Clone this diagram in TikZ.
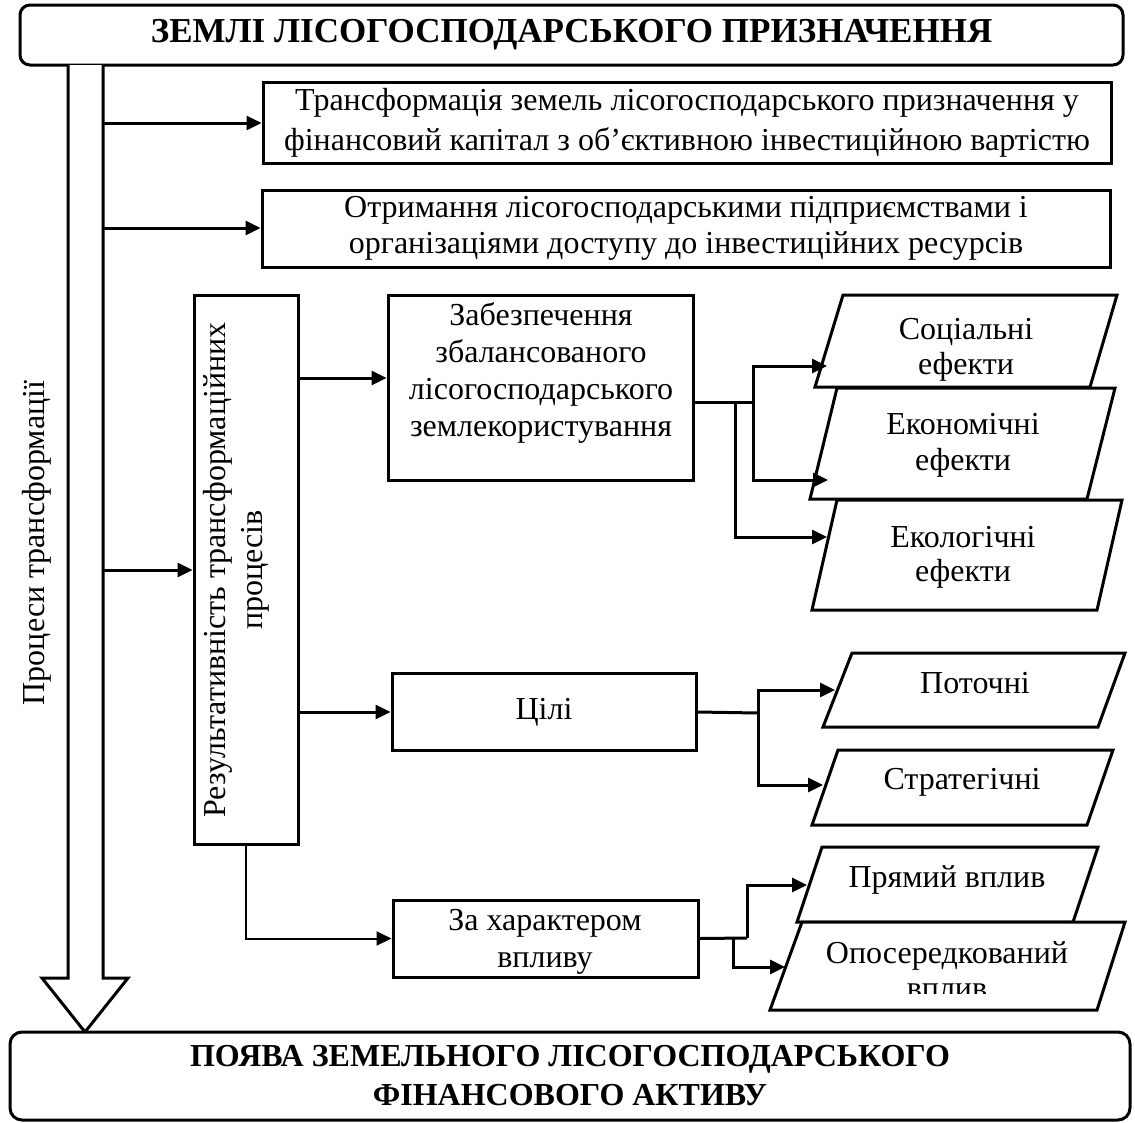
\documentclass[tikz,border=0pt]{standalone}
\usepackage{fontspec}
\setmainfont{Liberation Serif}
\usetikzlibrary{arrows.meta,calc}
\newcommand\mybody{\fontsize{32}{37}\selectfont}
\newcommand\mytitle{\bfseries\fontsize{35}{38}\selectfont}
\newcommand\mybottom{\bfseries\fontsize{32}{39}\selectfont}
\begin{document}
\begin{tikzpicture}[x=1pt,y=-1pt,
  lw/.style={line width=3pt},
  box/.style={draw, line width=3pt, align=center, inner sep=1pt, font=\mybody},
  arr/.style={line width=3pt, -{Triangle[length=15pt,width=14pt]}},
  tarr/.style={line width=2pt, -{Triangle[length=15pt,width=14pt]}},
  para/.style={draw, line width=3pt, fill=white, line join=miter},
  txt/.style={align=center, font=\mybody, inner sep=0pt}
]
\useasboundingbox (0,0) rectangle (1135,1122);

% top box
\node[draw, line width=3pt, rounded corners=10pt, minimum width=1103pt, minimum height=60pt,
      font=\mytitle, inner sep=0pt] (top) at (571.5,35) {ЗЕМЛІ ЛІСОГОСПОДАРСЬКОГО ПРИЗНАЧЕННЯ};

% block arrow
\draw[lw, line join=miter, fill=white] (68,65) -- (68,978) -- (42,978) -- (85,1032) -- (128,978) -- (103,978) -- (103,65);
\node[rotate=90, font=\mybody, inner sep=0pt] (proc) at (37,543) {Процеси трансформації};

% bottom box
\node[draw, line width=3pt, rounded corners=12pt, minimum width=1120pt, minimum height=88pt,
      font=\mybottom, align=center, inner sep=0pt, fill=white] (bot) at (570,1076)
      {ПОЯВА ЗЕМЕЛЬНОГО ЛІСОГОСПОДАРСЬКОГО\\ФІНАНСОВОГО АКТИВУ};

% right boxes
\node[box, minimum width=848pt, minimum height=81pt, font=\fontsize{32}{40}\selectfont] (b1) at (687,122.5)
  {Трансформація земель лісогосподарського призначення у\\фінансовий капітал з об’єктивною інвестиційною вартістю};
\node[box, minimum width=848pt, minimum height=77pt, font=\fontsize{32}{36}\selectfont] (b2) at (686,228.5)
  {Отримання лісогосподарськими підприємствами і\\організаціями доступу до інвестиційних ресурсів};

\node[draw, line width=3pt, minimum width=104pt, minimum height=549pt] (rez) at (246,569.5) {};
\node[txt, rotate=90] (rezt) at (236,570) {Результативність трансформаційних\\процесів};

\node[draw, line width=3pt, minimum width=305pt, minimum height=185pt] (zab) at (540.5,387.5) {};
\node[txt] (zabt) at (541,373) {Забезпечення\\збалансованого\\лісогосподарського\\землекористування};

\node[box, minimum width=304pt, minimum height=77pt] (cil) at (544,712) {Цілі};
\node[draw, line width=3pt, minimum width=305pt, minimum height=77pt] (zax) at (545.5,938.5) {};
\node[txt] (zaxt) at (545,942) {За характером\\впливу};

% parallelograms
\draw[para] (843,295) -- (1117,295) -- (1090,387) -- (815,387) -- cycle;
\node[txt, font=\fontsize{32}{35}\selectfont] (soc) at (966,350) {Соціальні\\ефекти};
\draw[para] (837,388) -- (1115,388) -- (1087,499) -- (810,499) -- cycle;
\node[txt, font=\fontsize{32}{36}\selectfont] (eko) at (963,445) {Економічні\\ефекти};
\draw[para] (837,500) -- (1122,500) -- (1097,610) -- (812,610) -- cycle;
\node[txt, font=\fontsize{32}{34}\selectfont] (ekol) at (963,557) {Екологічні\\ефекти};

\draw[para] (852,653) -- (1125,653) -- (1098,727) -- (823,727) -- cycle;
\node[txt] (pot) at (975,683) {Поточні};
\draw[para] (838,750) -- (1113,750) -- (1087,825) -- (812,825) -- cycle;
\node[txt] (str) at (962,782) {Стратегічні};

\draw[para] (822,847) -- (1098,847) -- (1073,922) -- (797,922) -- cycle;
\node[txt] (pr) at (947,880) {Прямий вплив};
\draw[para] (802,922) -- (1125,922) -- (1097,1010) -- (770,1010) -- cycle;
\begin{scope}
  \clip (700,900) rectangle (1135,993);
  \node[txt, font=\fontsize{32}{35}\selectfont] (op) at (947,970) {Опосередкований\\вплив};
\end{scope}

% coordinates for connectors
\coordinate (s1) at (103,123);
\coordinate (s2) at (103,228);
\coordinate (s3) at (103,570);
\coordinate (r1) at (298,378);
\coordinate (zo) at (693,402);
\coordinate (ja) at (753,402);
\coordinate (jb) at (735,402);
\coordinate (soc-in) at (827,366);
\coordinate (eko-in) at (828,480);
\coordinate (ekol-in) at (827,537);
\coordinate (jc) at (758,713);
\coordinate (pot-in) at (835,690);
\coordinate (str-in) at (823,785);
\coordinate (jd) at (747,938);
\coordinate (je) at (733,938);
\coordinate (pr-in) at (807,885);
\coordinate (op-in) at (785,967);

% connectors
\draw[arr] (s1) -- (s1 -| b1.west);
\draw[arr] (s2) -- (s2 -| b2.west);
\draw[arr] (s3) -- (s3 -| rez.west);
\draw[arr] (r1) -- (r1 -| zab.west);
\draw[arr] (rez.east |- cil.west) -- (cil.west);
\draw[tarr] (rez.south) |- (zax.west);

\draw[lw] (zo) -- (ja);
\draw[arr] (ja) |- (soc-in);
\draw[arr] (ja) |- (eko-in);
\draw[arr] (jb) |- (ekol-in);

\draw[lw] (cil.east) -- (jc);
\draw[arr] (jc) |- (pot-in);
\draw[arr] (jc) |- (str-in);

\draw[lw] (zax.east) -- (jd);
\draw[arr] (jd) |- (pr-in);
\draw[arr] (je) |- (op-in);
\end{tikzpicture}
\end{document}
